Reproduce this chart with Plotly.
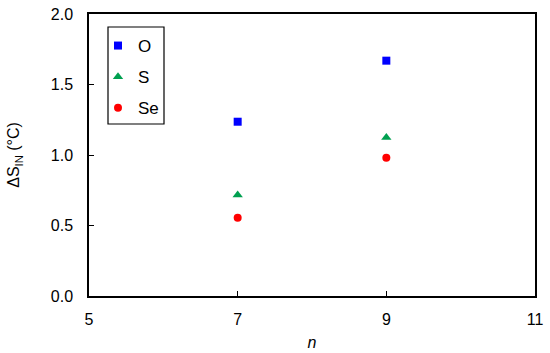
import plotly.graph_objects as go

n_values = [7, 9]
O_values = [1.236, 1.669]
S_values = [0.716, 1.125]
Se_values = [0.555, 0.981]

x_ticks = [5, 7, 9, 11]
y_ticks = [0.0, 0.5, 1.0, 1.5, 2.0]

fig = go.Figure()
series = [
    ("O", O_values, "square", "#0000FF", 8),
    ("S", S_values, "triangle-up", "#00A050", 9),
    ("Se", Se_values, "circle", "#FF0000", 8),
]
for i, (name, vals, sym, col, sz) in enumerate(series):
    fig.add_trace(go.Scatter(
        x=n_values, y=vals, mode="markers", name=name, legendgroup=name,
        marker=dict(symbol=sym, color=col, size=sz, line=dict(width=0)),
    ))

# legend frame
fig.add_shape(type="rect", xref="paper", yref="paper",
              x0=(108 - 89) / 446, x1=(164 - 89) / 446,
              y0=(296 - 124) / 282, y1=(296 - 27) / 282,
              line=dict(color="black", width=1.2), fillcolor="rgba(0,0,0,0)")

font = dict(family="Liberation Sans, Arial, sans-serif", size=16, color="black")
fig.update_layout(
    width=550, height=353,
    margin=dict(l=89, r=15, t=14, b=57, autoexpand=False),
    paper_bgcolor="white", plot_bgcolor="white",
    font=font,
    showlegend=True,
    legend=dict(
        x=(98 - 89) / 446, y=(296 - 28) / 282, xanchor="left", yanchor="top",
        borderwidth=0, bgcolor="rgba(0,0,0,0)",
        font=dict(size=17), tracegroupgap=6, traceorder="grouped",
        itemwidth=30,
    ),
    xaxis=dict(
        range=[5, 11], tickvals=x_ticks, ticktext=[str(v) for v in x_ticks],
        ticks="inside", ticklen=5, tickcolor="black", tickwidth=1,
        showline=True, linecolor="black", linewidth=1.5, mirror=True,
        showgrid=False, zeroline=False, automargin=True,
        ticklabelstandoff=8,
        title=dict(text="<i>n</i>", font=dict(size=16), standoff=10),
        tickfont=dict(size=16),
    ),
    yaxis=dict(
        range=[0, 2], tickvals=y_ticks, ticktext=["%.1f" % v for v in y_ticks],
        ticks="inside", ticklen=5, tickcolor="black", tickwidth=1,
        showline=True, linecolor="black", linewidth=1.5, mirror=True,
        showgrid=False, zeroline=False, automargin=True,
        ticklabelstandoff=11,
        title=dict(text="ΔS<sub>IN</sub> (°C)", font=dict(size=16), standoff=27),
        tickfont=dict(size=16),
    ),
)
fig.write_html("out.html", config={"displayModeBar": False},
               post_script="document.body.style.margin='0';")
